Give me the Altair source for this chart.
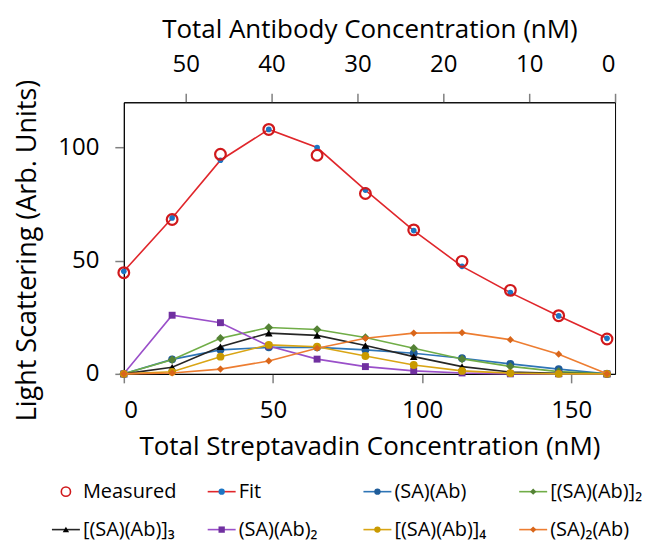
import altair as alt
import pandas as pd

# ---- data ----
sa_conc = [0, 16.2, 32.4, 48.6, 64.8, 81.0, 97.2, 113.4, 129.6, 145.8, 162.0]
measured = [44.7, 68.2, 97.0, 108.0, 96.6, 79.7, 63.6, 49.7, 36.9, 25.7, 15.4]
fit = [45.3, 68.9, 94.4, 108.0, 100.0, 81.2, 63.3, 47.5, 35.9, 25.6, 15.7]
sa_ab = [0, 6.4, 10.6, 11.7, 11.7, 10.6, 9.1, 6.9, 4.4, 2.1, 0]
sa_ab_dimer = [0, 6.2, 15.7, 20.5, 19.6, 16.1, 11.3, 6.6, 3.3, 1.0, 0]
sa_ab_trimer = [0, 2.9, 12.0, 18.0, 17.0, 12.5, 7.6, 3.2, 0.8, 0.2, 0]
sa_ab2 = [0, 25.9, 22.6, 12.3, 6.5, 3.2, 1.3, 0.4, 0, 0, 0]
sa_ab_tetramer = [0, 0.9, 7.6, 12.8, 12.0, 7.9, 3.9, 1.3, 0.3, 0, 0]
sa2_ab = [0, 0.4, 2.1, 5.7, 11.3, 15.7, 18.0, 18.2, 15.1, 8.7, 0]
x_ticks = [0, 50, 100, 150]
y_ticks = [0, 50, 100]
antibody_ticks = [0, 10, 20, 30, 40, 50]

FONT = "Open Sans"

# label, values, line colour, marker colour, shape, size, filled, has line
series = [
    ("Measured", measured, None, "#D0191C", "circle", 115, False, False),
    ("Fit", fit, "#E0262B", "#1B75C4", "circle", 32, True, True),
    ("(SA)(Ab)", sa_ab, "#2E75B6", "#1F5C99", "circle", 62, True, True),
    ("[(SA)(Ab)]\u2082", sa_ab_dimer, "#70AD47", "#548235", "diamond", 72, True, True),
    ("[(SA)(Ab)]\u2083", sa_ab_trimer, "#262626", "#000000", "triangle-up", 58, True, True),
    ("(SA)(Ab)\u2082", sa_ab2, "#9A4FC9", "#7030A0", "square", 48, True, True),
    ("[(SA)(Ab)]\u2084", sa_ab_tetramer, "#D9A514", "#C99A00", "circle", 62, True, True),
    ("(SA)\u2082(Ab)", sa2_ab, "#ED7D31", "#D9661A", "diamond", 52, True, True),
]

x_enc = alt.X(
    "sa:Q",
    scale=alt.Scale(domain=[0, 164.7], nice=False, zero=False),
    axis=alt.Axis(title="Total Streptavadin Concentration (nM)", values=x_ticks,
                  orient="bottom", labelPadding=16, titlePadding=11),
)
y_enc = alt.Y(
    "v:Q",
    scale=alt.Scale(domain=[0, 120], nice=False),
    axis=alt.Axis(title="Light Scattering (Arb. Units)", values=y_ticks,
                  labelPadding=16, titlePadding=16, titleY=148, titleFontSize=27),
)

main_layers = []
order = [1, 0, 2, 3, 4, 5, 6, 7]
for i in order:
    label, vals, lc, mc, shape, size, filled, has_line = series[i]
    df = pd.DataFrame({"sa": sa_conc, "v": vals})
    base = alt.Chart(df)
    if has_line:
        main_layers.append(base.mark_line(color=lc, strokeWidth=1.6).encode(x=x_enc, y=y_enc))
    if filled:
        pt = base.mark_point(shape=shape, filled=True, color=mc, size=size, opacity=1)
    else:
        pt = base.mark_point(shape=shape, filled=False, color=mc, size=size, strokeWidth=2.2, opacity=1)
    main_layers.append(pt.encode(x=x_enc, y=y_enc))

main = alt.layer(*main_layers)

top = alt.Chart(pd.DataFrame({"ab": antibody_ticks})).mark_point(opacity=0).encode(
    x=alt.X("ab:Q", scale=alt.Scale(domain=[0, 57.2], nice=False, reverse=True),
            axis=alt.Axis(orient="top", values=antibody_ticks,
                          title="Total Antibody Concentration (nM)",
                          labelPadding=17, titlePadding=10))
)

# legend built from the series list: 4 columns, 2 rows
leg_x = alt.Scale(domain=[0, 3], range=[-58, 410])
leg_y = alt.Scale(domain=[0, 1], range=[390, 428])
leg_layers = []
for i, (label, vals, lc, mc, shape, size, filled, has_line) in enumerate(series):
    d = pd.DataFrame({"col": [i % 4], "row": [i // 4], "label": [label]})
    b = alt.Chart(d)
    enc = dict(x=alt.X("col:Q", scale=leg_x, axis=None), y=alt.Y("row:Q", scale=leg_y, axis=None))
    if has_line:
        leg_layers.append(b.mark_point(shape="stroke", size=784, filled=False, color=lc,
                                       strokeWidth=1.6, opacity=1).encode(**enc))
    if filled:
        leg_layers.append(b.mark_point(shape=shape, filled=True, color=mc, size=40, opacity=1).encode(**enc))
    else:
        leg_layers.append(b.mark_point(shape=shape, filled=False, color=mc, size=85,
                                       strokeWidth=1.6, opacity=1).encode(**enc))
    leg_layers.append(b.mark_text(align="left", baseline="middle", dx=17, fontSize=20, font=FONT,
                                  color="black").encode(text="label:N", **enc))
legend = alt.layer(*leg_layers)

chart = alt.layer(main, top, legend).resolve_scale(x="independent", y="independent").properties(
    width=492, height=272,
    padding={"left": 5, "top": 8, "right": 5, "bottom": 5},
).configure_axis(
    labelFont=FONT, titleFont=FONT, labelFontSize=24, titleFontSize=26,
    titleFontWeight="normal", labelColor="black", titleColor="black",
    domainColor="black", domainWidth=1, tickColor="#808080", tickWidth=1.5,
    tickSize=9, grid=False,
).configure_view(stroke="black", strokeWidth=1)

chart.save("out.html", embed_options={"renderer": "svg", "actions": False})
